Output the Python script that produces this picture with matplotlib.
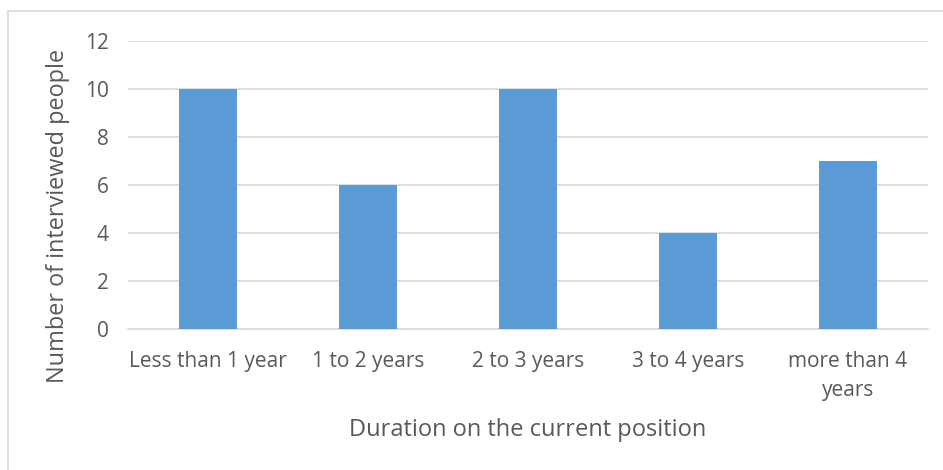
import matplotlib.pyplot as plt
from matplotlib.patches import Rectangle

# data
categories = ['Less than 1 year', '1 to 2 years', '2 to 3 years', '3 to 4 years', 'more than 4\nyears']
counts = [10, 6, 10, 4, 7]
y_ticks = [0, 2, 4, 6, 8, 10, 12]

BAR = '#5B9BD5'
TEXT = '#595959'
GRID = '#D9D9D9'

plt.rcParams['font.family'] = ['Open Sans', 'DejaVu Sans']

fig = plt.figure(figsize=(9.43, 4.70), dpi=100)
fig.patch.set_facecolor('white')

# chart frame (runs off the right and bottom edges)
fig.patches.append(Rectangle((8 / 943, -0.1), 1.2, 1.1 - 11 / 470,
                             transform=fig.transFigure, fill=False,
                             edgecolor=GRID, linewidth=1.2))

ax = fig.add_axes([128 / 943, 1 - 329 / 470, 800 / 943, 288 / 470])
x = range(len(categories))
ax.bar(x, counts, width=0.36, color=BAR, zorder=3)

ax.set_ylim(0, 12)
ax.set_xlim(-0.5, len(categories) - 0.5)
ax.set_yticks(y_ticks)
ax.set_xticks(list(x))
ax.set_xticklabels(categories, linespacing=1.55)
ax.tick_params(axis='both', length=0, labelsize=15, colors=TEXT)
ax.tick_params(axis='y', pad=14)
ax.tick_params(axis='x', pad=15.5)

ax.grid(axis='y', color=GRID, linewidth=1.2, zorder=0)
ax.set_axisbelow(True)
for s in ['top', 'right', 'left']:
    ax.spines[s].set_visible(False)
ax.spines['bottom'].set_color(GRID)
ax.spines['bottom'].set_linewidth(1.2)

ax.set_ylabel('Number of interviewed people', fontsize=16.9, color=TEXT)
ax.set_xlabel('Duration on the current position', fontsize=17, color=TEXT)
ax.yaxis.set_label_coords(-0.072, 0.392)
ax.xaxis.set_label_coords(0.5, -0.309)

plt.savefig('out.png', dpi=100, facecolor='white')
